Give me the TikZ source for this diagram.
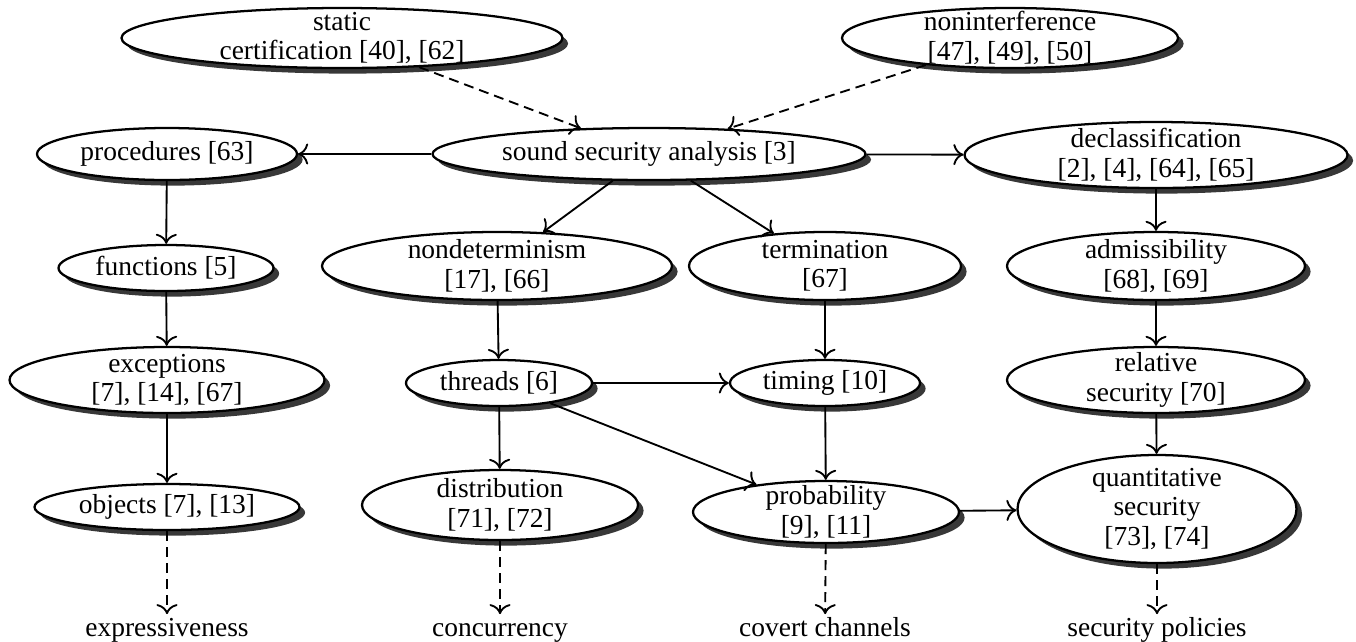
\documentclass[tikz,border=0pt]{standalone}
\usepackage{fontspec}
\setmainfont{Liberation Serif}
\usetikzlibrary{shapes.geometric,shadows,arrows.meta}
\begin{document}
\begin{tikzpicture}[x=0.375pt,y=-0.375pt,
  ell/.style n args={3}{ellipse, draw, line width=0.85pt, fill=white, inner sep=0pt,
    minimum width=#1*0.375pt, minimum height=#2*0.375pt,
    drop shadow={shadow xshift=2.1pt, shadow yshift=-2.1pt, opacity=0.78, fill=black},
    label={[txt]center:{#3}}},
  txt/.style={align=center, font=\fontsize{10.3}{11}\selectfont, inner sep=0pt},
  leaf/.style={font=\fontsize{10.3}{11}\selectfont, inner sep=1.2pt, text height=7.1pt, text depth=2pt},
  edge/.style={-{To[scale=1.2]}, line width=0.7pt},
  dedge/.style={-{To[scale=1.2]}, line width=0.7pt, dash pattern=on 3.75pt off 2.25pt},
]
\useasboundingbox (0,0) rectangle (1356,641);

\node[ell={441}{60}{static\\certification [40], [62]}] (static) at (342,38) {};
\node[ell={336}{60}{noninterference\\{[47], [49], [50]}}] (nonint) at (1010,38) {};
\node[ell={433}{52}{sound security analysis [3]}] (ssa) at (649,154) {};
\node[ell={260}{52}{procedures [63]}] (proc) at (167,154) {};
\node[ell={383}{66}{declassification\\{[2], [4], [64], [65]}}] (declass) at (1156,155) {};
\node[ell={215}{46}{functions [5]}] (func) at (166,268) {};
\node[ell={350}{68}{nondeterminism\\{[17], [66]}}] (nondet) at (497,266) {};
\node[ell={272}{68}{termination\\{[67]}}] (term) at (825,266) {};
\node[ell={298}{68}{admissibility\\{[68], [69]}}] (admiss) at (1156,266) {};
\node[ell={315}{66}{exceptions\\{[7], [14], [67]}}] (exc) at (167,380) {};
\node[ell={186}{46}{threads [6]}] (threads) at (499,383) {};
\node[ell={190}{46}{timing [10]}] (timing) at (825,383) {};
\node[ell={298}{66}{relative\\security [70]}] (relative) at (1156,380) {};
\node[ell={265}{46}{objects [7], [13]}] (objects) at (167,507) {};
\node[ell={276}{70}{distribution\\{[71], [72]}}] (distrib) at (500,505) {};
\node[ell={266}{62}{probability\\{[9], [11]}}] (prob) at (826,512) {};
\node[ell={279}{108}{quantitative\\security\\{[73], [74]}}] (quant) at (1157,509) {};

\node[leaf] (expr) at (167,630) {expressiveness};
\node[leaf] (conc) at (500,630) {concurrency};
\node[leaf] (covert) at (825,630) {covert channels};
\node[leaf] (policies) at (1157,630) {security policies};

\draw[dedge] (static) -- (ssa);
\draw[dedge] (nonint) -- (ssa);
\draw[edge] (ssa) -- (proc);
\draw[edge] (ssa) -- (declass);
\draw[edge] (ssa) -- (nondet);
\draw[edge] (ssa) -- (term);
\draw[edge] (proc) -- (func);
\draw[edge] (func) -- (exc);
\draw[edge] (exc) -- (objects);
\draw[dedge] (objects) -- (expr);
\draw[edge] (declass) -- (admiss);
\draw[edge] (admiss) -- (relative);
\draw[edge] (relative) -- (quant);
\draw[dedge] (quant) -- (policies);
\draw[edge] (nondet) -- (threads);
\draw[edge] (term) -- (timing);
\draw[edge] (threads) -- (timing);
\draw[edge] (threads) -- (prob);
\draw[edge] (threads) -- (distrib);
\draw[edge] (timing) -- (prob);
\draw[edge] (prob) -- (quant);
\draw[dedge] (distrib) -- (conc);
\draw[dedge] (prob) -- (covert);
\end{tikzpicture}
\end{document}
